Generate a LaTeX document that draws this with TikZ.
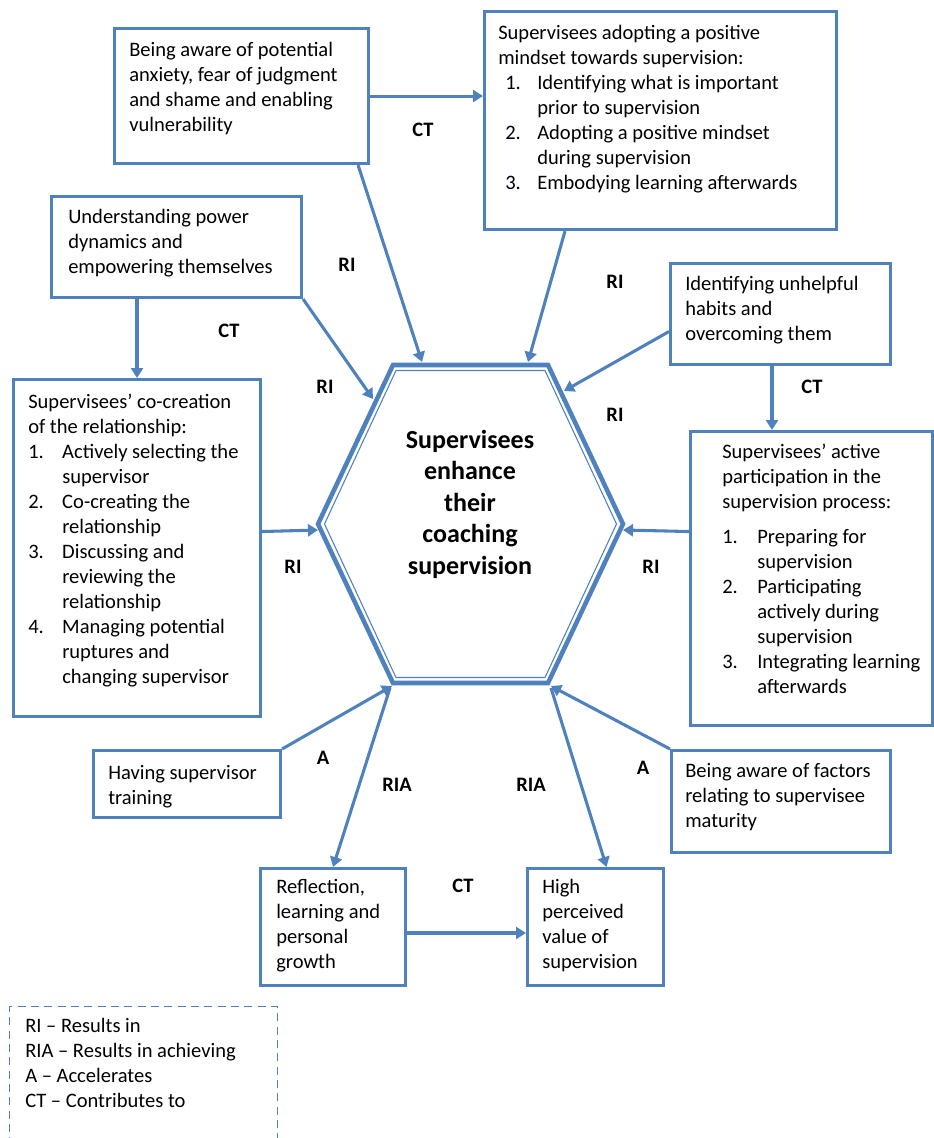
\documentclass[tikz,border=0pt]{standalone}
\usepackage{fontspec}
\setmainfont{Carlito}
\usetikzlibrary{arrows.meta,calc}
\definecolor{ofblue}{RGB}{79,129,189}
\begin{document}
\begin{tikzpicture}[x=0.75pt,y=-0.75pt,
  sz/.style 2 args={minimum width=#1*0.75pt,minimum height=#2*0.75pt},
  frame/.style={draw=ofblue,line width=2.3pt,inner sep=0pt,anchor=north west},
  txt/.style={anchor=north west,inner sep=0pt,align=left,
    font=\fontsize{15.4pt}{18.75pt}\selectfont},
  rel/.style={inner sep=0pt,font=\fontsize{15.4pt}{18.75pt}\selectfont\bfseries},
  arr/.style={draw=ofblue,line width=2.3pt,-{Triangle[length=7.5pt,width=9pt]}},
]
\useasboundingbox (0,0) rectangle (933,1138);

% central hexagon: thick outline with a thin inner line
\coordinate (hv1) at (393,365);
\coordinate (hv2) at (548,365);
\coordinate (hv3) at (623,524);
\coordinate (hv4) at (548,683);
\coordinate (hv5) at (393,683);
\coordinate (hv6) at (318,524);
\draw[ofblue,line width=3.4pt,line join=miter] (hv1) -- (hv2) -- (hv3) -- (hv4) -- (hv5) -- (hv6) -- cycle;
\draw[ofblue,line width=0.8pt] (396,370.5) -- (545,370.5) -- (616.5,524) -- (545,677.5) -- (396,677.5) -- (324.5,524) -- cycle;
\node[anchor=north,align=center,inner sep=0pt,
  font=\fontsize{19.5pt}{23.6pt}\selectfont\bfseries] (hc) at (470,426)
  {\strut Supervisees\\enhance\\their\\coaching\\supervision};

% points where connectors meet the hexagon
\coordinate (hin1) at (422,362);
\coordinate (hin2) at (528,362);
\coordinate (hin3) at (373,399);
\coordinate (hin4) at (564,391);
\coordinate (hin5) at (318,530);
\coordinate (hin6) at (623,530);
\coordinate (hin7) at (392,686);
\coordinate (hin8) at (551,686);
\coordinate (hout1) at (390,688);
\coordinate (hout2) at (551,688);

% boxes
\node[frame,sz={254}{135}] (b1) at (113,27) {};
\node[frame,sz={352}{218}] (b2) at (483,10) {};
\node[frame,sz={250}{101}] (b3) at (50,195) {};
\node[frame,sz={247}{337}] (b4) at (12,378) {};
\node[frame,sz={220}{101}] (b5) at (669,262) {};
\node[frame,sz={242}{294}] (b6) at (689,430) {};
\node[frame,sz={187}{67}]  (b7) at (92,749) {};
\node[frame,sz={219}{102}] (b8) at (670,749) {};
\node[frame,sz={145}{117}] (b9) at (259,867) {};
\node[frame,sz={136}{117}] (b10) at (526,867) {};
\node[draw=ofblue,line width=1.1pt,dash pattern=on 6pt off 4pt,inner sep=0pt,
  anchor=north west,sz={268}{160}] (key) at (9,1006) {};

% box texts
\node[txt] (t1) at (129,38.5) {\strut Being aware of potential\\anxiety, fear of judgment\\and shame and enabling\\vulnerability};
\node[txt] (t2) at (498,21.5) {\strut Supervisees adopting a positive\\mindset towards supervision:\\
  \hspace*{5.25pt}\makebox[24pt][l]{1.}Identifying what is important\\
  \hspace*{29.25pt}prior to supervision\\
  \hspace*{5.25pt}\makebox[24pt][l]{2.}Adopting a positive mindset\\
  \hspace*{29.25pt}during supervision\\
  \hspace*{5.25pt}\makebox[24pt][l]{3.}Embodying learning afterwards};
\node[txt] (t3) at (68,205.5) {\strut Understanding power\\dynamics and\\empowering themselves};
\node[txt] (t4) at (28,390.5) {\strut Supervisees’ co-creation\\of the relationship:\\
  \makebox[25.5pt][l]{1.}Actively selecting the\\
  \hspace*{25.5pt}supervisor\\
  \makebox[25.5pt][l]{2.}Co-creating the\\
  \hspace*{25.5pt}relationship\\
  \makebox[25.5pt][l]{3.}Discussing and\\
  \hspace*{25.5pt}reviewing the\\
  \hspace*{25.5pt}relationship\\
  \makebox[25.5pt][l]{4.}Managing potential\\
  \hspace*{25.5pt}ruptures and\\
  \hspace*{25.5pt}changing supervisor};
\node[txt] (t5) at (685,272.5) {\strut Identifying unhelpful\\habits and\\overcoming them};
\node[txt] (t6) at (722,440.5) {\strut Supervisees’ active\\participation in the\\supervision process:\\[7.5pt]
  \makebox[26.25pt][l]{1.}Preparing for\\
  \hspace*{26.25pt}supervision\\
  \makebox[26.25pt][l]{2.}Participating\\
  \hspace*{26.25pt}actively during\\
  \hspace*{26.25pt}supervision\\
  \makebox[26.25pt][l]{3.}Integrating learning\\
  \hspace*{26.25pt}afterwards};
\node[txt] (t7) at (108,761.5) {\strut Having supervisor\\training};
\node[txt] (t8) at (685,759.5) {\strut Being aware of factors\\relating to supervisee\\maturity};
\node[txt] (t9) at (276,876) {\strut Reflection,\\learning and\\personal\\growth};
\node[txt] (t10) at (542,876) {\strut High\\perceived\\value of\\supervision};
\node[txt] (tk) at (25,1014.5) {\strut RI – Results in\\RIA – Results in achieving\\A – Accelerates\\CT – Contributes to};

% start points of connectors along box edges
\coordinate (s1) at ($(b1.south east)+(-12,0)$);
\coordinate (s2) at ($(b2.south west)+(82,0)$);
\coordinate (s3) at ($(b3.south west)+(87,0)$);
\coordinate (s5) at ($(b5.west)+(0,17.5)$);
\coordinate (s6) at ($(b5.south west)+(103,0)$);
\coordinate (s4) at ($(b4.east)+(0,-16.5)$);
\coordinate (s7) at ($(b6.west)+(0,-47)$);
\coordinate (s10) at ($(b10.north)+(11,0)$);
\coordinate (s9) at ($(b9.north east)+(0,66)$);

% connectors
\draw[arr] (b1.east) -- (b1.east -| b2.west);
\draw[arr] (s1) -- (hin1);
\draw[arr] (s2) -- (hin2);
\draw[arr] (s3) -- (s3 |- b4.north);
\draw[arr] (b3.south east) -- (hin3);
\draw[arr] (s5) -- (hin4);
\draw[arr] (s6) -- (s6 |- b6.north);
\draw[arr] (s4) -- (hin5);
\draw[arr] (s7) -- (hin6);
\draw[arr] (b7.north east) -- (hin7);
\draw[arr] (b8.north west) -- (hin8);
\draw[arr] (hout1) -- (b9.north);
\draw[arr] (hout2) -- (s10);
\draw[arr] (s9) -- (s9 -| b10.west);

% relation labels
\node[rel] (l1) at (423,130) {CT};
\node[rel] (l2) at (347,265) {RI};
\node[rel] (l3) at (229,331) {CT};
\node[rel] (l4) at (325,387) {RI};
\node[rel] (l5) at (615,282) {RI};
\node[rel] (l6) at (812,387) {CT};
\node[rel] (l7) at (615,415) {RI};
\node[rel] (l8) at (293,567) {RI};
\node[rel] (l9) at (651,567) {RI};
\node[rel] (l10) at (323,758) {A};
\node[rel] (l11) at (397,785) {RIA};
\node[rel] (l12) at (531,785) {RIA};
\node[rel] (l13) at (643,768) {A};
\node[rel] (l14) at (463,886) {CT};
\end{tikzpicture}
\end{document}
